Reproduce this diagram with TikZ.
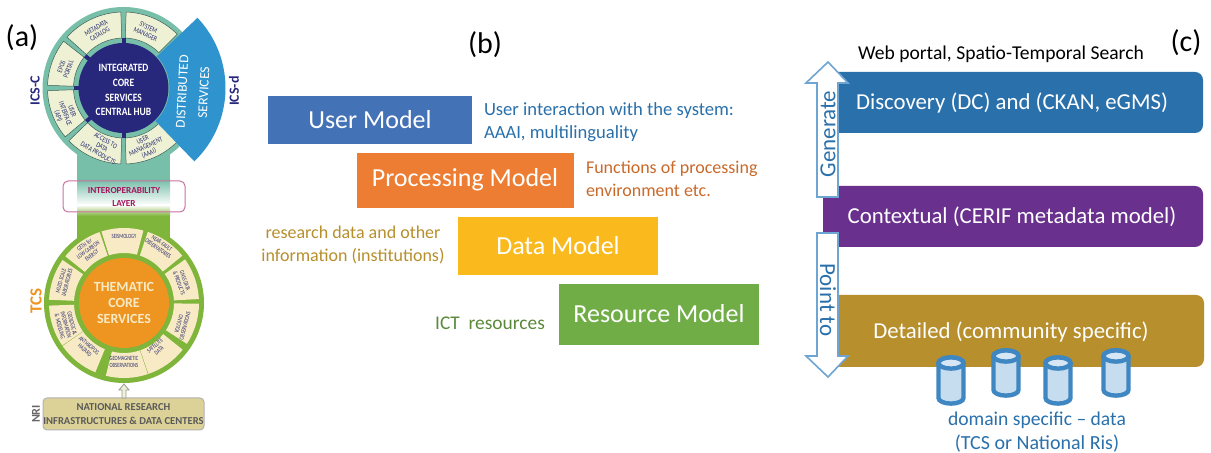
\documentclass[tikz,border=0pt]{standalone}
\usepackage{fontspec}
\setmainfont{Carlito}
\newfontfamily\condA[FakeStretch=0.78]{Carlito}
\newfontfamily\condB[FakeStretch=0.72]{Carlito}
\newfontfamily\condH[FakeStretch=0.85]{Carlito}
\definecolor{teal1}{HTML}{78BFA9}
\definecolor{navy1}{HTML}{27287C}
\definecolor{cream1}{HTML}{EEF1D3}
\definecolor{cream2}{HTML}{F8EAC4}
\definecolor{green1}{HTML}{7EB53A}
\definecolor{orange1}{HTML}{EE9420}
\definecolor{blue1}{HTML}{2F93CE}
\definecolor{segtxt}{HTML}{2C2F70}
\definecolor{magenta1}{HTML}{A5145F}
\definecolor{mdlblue}{HTML}{4472B6}
\definecolor{mdlorange}{HTML}{EC7D32}
\definecolor{mdlyellow}{HTML}{FABA1D}
\definecolor{mdlgreen}{HTML}{70AD47}
\definecolor{cblue}{HTML}{2A70AB}
\definecolor{cpurple}{HTML}{69308E}
\definecolor{cgold}{HTML}{B78F2C}
\definecolor{arrowline}{HTML}{6FA5D2}
\definecolor{cylline}{HTML}{3F87C2}
\definecolor{cylfill}{HTML}{C6DCEF}
\newcommand{\fs}[1]{\fontsize{#1}{#1}\selectfont}
\newcommand{\annseg}[7]{% cx cy a1 a2 r1 r2 style
  \begin{scope}[shift={(#1,#2)},y=.5pt]
    \path[#7] (#3:#6) arc[start angle=#3,end angle=#4,radius=#6*.5pt] -- (#4:#5) arc[start angle=#4,end angle=#3,radius=#5*.5pt] -- cycle;
  \end{scope}}
\tikzset{
  x=.5pt,y=-.5pt,
  every node/.style={inner sep=0pt,outer sep=0pt,align=center},
  paneltag/.style={font=\fs{15}},
  segA/.style={fill=cream1,draw=teal1!50!black,line width=.25pt},
  segB/.style={fill=cream2},
  segtextA/.style={font=\condA\fs{3.7},text=segtxt},
  segtextB/.style={font=\condB\fs{3.2},text=segtxt},
  hubtext/.style={font=\condH\bfseries\fs{5.6},align=center},
  sidelabel/.style={font=\bfseries\fs{7},rotate=90},
  modeltext/.style={font=\fs{13},text=white},
  desc/.style={font=\fs{9}},
  layerbox/.style={rounded corners=4pt},
  layertext/.style={font=\fs{11.4},text=white},
  blockarrow/.style={fill=white,draw=arrowline,line width=.8pt,line join=miter},
  arrowtext/.style={font=\fs{11.5},text=cblue},
  cylbody/.style={fill=cylfill,draw=cylline,line width=2.2pt},
}
\newcommand{\cyl}[3]{% cx top bottom (outer extents)
  \path[cylbody] (#1-12.5,#2+8) -- (#1-12.5,#3-8) arc[start angle=180,end angle=360,x radius=6.25pt,y radius=2.8pt] -- (#1+12.5,#2+8) arc[start angle=0,end angle=180,x radius=6.25pt,y radius=2.8pt] -- cycle;
  \path[cylbody,fill=cylfill!70!white] (#1,#2+8) ellipse[x radius=6.25pt,y radius=2.8pt];
}
\begin{document}
\begin{tikzpicture}
\useasboundingbox (0,0) rectangle (1211,453);
\fill[white] (0,0) rectangle (1211,453);

% ---------- panel (a)
\node[paneltag] (taga) at (22,38) {(a)};
\fill[teal1] (77,150) rectangle (170,180);
\shade[top color=teal1,bottom color=white] (77,180) rectangle (170,205);
\shade[top color=white,bottom color=green1] (77,205) rectangle (170,216);
\fill[green1] (77,216) rectangle (170,240);
\fill[teal1] (123.5,88) circle[radius=81];
\fill[navy1] (123.5,88) circle[radius=45];
\annseg{123.5}{88}{92}{138}{50}{76}{segA}
\annseg{123.5}{88}{142}{178}{50}{76}{segA}
\annseg{123.5}{88}{182}{220}{50}{76}{segA}
\annseg{123.5}{88}{224}{268}{50}{76}{segA}
\annseg{123.5}{88}{272}{315}{50}{76}{segA}
\annseg{123.5}{88}{45}{88}{50}{76}{segA}
\foreach \a in {90,140,180,222,270}{
  \begin{scope}[shift={(123.5,88)},y=.5pt]
    \draw[navy1,line width=2pt] (\a:44) -- (\a:50);
  \end{scope}}
\annseg{123.5}{88}{-46}{43.5}{46}{102}{fill=blue1}
\node[hubtext,text=white] (hub1) at (123.5,90) {INTEGRATED\\[1.8pt]CORE\\[1.8pt]SERVICES\\[1.8pt]CENTRAL HUB};
\node[segtextA,rotate=30] (s1) at (98,31) {METADATA\\CATALOG};
\node[segtextA,rotate=-25] (s2) at (147,31) {SYSTEM\\MANAGER};
\node[segtextA,rotate=70] (s3) at (65,68) {EPOS\\PORTAL};
\node[segtextA,rotate=-70] (s4) at (65,114) {USER\\INTERFACE\\(API)};
\node[segtextA,rotate=-30] (s5) at (102,147) {ACCESS TO\\DATA\\DATA PRODUCTS};
\node[segtextA,rotate=25] (s6) at (146,147) {USER\\MANAGEMENT\\(AAAI)};
\node[font=\fs{6.8},text=white,rotate=87,align=center] (dist) at (193,92) {DISTRIBUTED\\[4pt]SERVICES};
\node[sidelabel,text=navy1] (icsc) at (35,91) {ICS-C};
\node[sidelabel,text=navy1] (icsd) at (234,91) {ICS-d};

\draw[magenta1!60,rounded corners=2.5pt,line width=.5pt] (63,181) rectangle (185,212);
\node[font=\bfseries\fs{4.6},text=magenta1] (iop) at (124,197) {INTEROPERABILITY\\[1.5pt]LAYER};

\fill[green1] (124,303) circle[radius=80];
\fill[orange1] (124,303) circle[radius=45];
\foreach \a in {75,39,3,-33,-71,-104,-145,182,145,109}{
  \pgfmathsetmacro{\b}{\a+32.5}
  \annseg{124}{303}{\a}{\b}{50}{75}{segB}
}
\node[font=\bfseries\fs{7},text=cream2] (hub2) at (124,303) {THEMATIC\\[1pt]CORE\\[1pt]SERVICES};
\node[segtextB] (t1) at (124,236) {SEISMOLOGY};
\node[segtextB,rotate=-35] (t2) at (160,246) {NEAR-FAULT\\OBSERVATORIES};
\node[segtextB,rotate=-70] (t3) at (182,282) {GNSS DATA\\\& PRODUCTS};
\node[segtextB,rotate=75] (t4) at (182,325) {VOLCANO\\OBSERVATIONS};
\node[segtextB,rotate=40] (t5) at (157,348) {SATELLITE\\DATA};
\node[segtextB] (t6) at (124,362) {GEOMAGNETIC\\OBSERVATIONS};
\node[segtextB,rotate=-40] (t7) at (87,348) {ANTHROPOG\\HAZARD};
\node[segtextB,rotate=-75] (t8) at (66,325) {GEOLOGICAL\\INFORMATION\\\& MODELING};
\node[segtextB,rotate=75] (t9) at (64,282) {MULTI-SCALE\\LABORATORIES};
\node[segtextB,rotate=35] (t10) at (88,250) {GETH for\\LOW CARBON\\ENERGY};
\node[font=\bfseries\fs{8.5},text=orange1,rotate=90] (tcs) at (36,301) {TCS};

\node[draw=black!30,fill=cream2!75!olive!95,rounded corners=2pt,line width=.5pt,minimum width=80.5pt,minimum height=16pt,font=\bfseries\fs{5.3},text=black!65] (nri) at (123.5,414) {NATIONAL RESEARCH\\[1.5pt]INFRASTRUCTURES \& DATA CENTERS};
\node[font=\bfseries\fs{6},text=black!60,rotate=90] (nril) at (36,414) {NRI};
\path[fill=cream1,draw=black!40,line width=.4pt] (122,398) -- (122,390) -- (119,390) -- (124,384) -- (129,390) -- (126,390) -- (126,398) -- cycle;

% ---------- panel (b)
\node[paneltag] (tagb) at (485,45) {(b)};
\fill[mdlblue] (268,96) rectangle (472,144);
\node[modeltext] (m1) at (370,120) {User Model};
\fill[mdlorange] (357,153) rectangle (574,208);
\node[modeltext] (m2) at (465,180) {Processing Model};
\fill[mdlyellow] (458,217) rectangle (658,275);
\node[modeltext] (m3) at (558,246) {Data Model};
\fill[mdlgreen] (559,284) rectangle (759,345);
\node[modeltext] (m4) at (659,314) {Resource Model};
\node[desc,font=\fs{9.3},text=cblue,align=left,anchor=west] (d1) at (484,122) {User interaction with the system:\\[2.2pt]AAAI, multilinguality};
\node[desc,text=mdlorange!85!black,align=left,anchor=west] (d2) at (586,179) {Functions of processing\\[2.5pt]environment etc.};
\node[desc,text=cgold,align=center] (d3) at (353,245) {research data and other\\[2.5pt]information (institutions)};
\node[desc,font=\fs{9.7},text=mdlgreen!80!black] (d4) at (490,323) {ICT\ \ resources};

% ---------- panel (c)
\node[paneltag] (tagc) at (1186,43) {(c)};
\node[font=\fs{9.8}] (web) at (1001,54) {Web portal, Spatio-Temporal Search};
\fill[cblue,layerbox] (830,72) rectangle (1203,133);
\fill[cpurple,layerbox] (823,186) rectangle (1203,247);
\fill[cgold,layerbox] (830,295) rectangle (1204,367);
\node[layertext] (l1) at (1012,103) {Discovery (DC) and (CKAN, eGMS)};
\node[layertext] (l2) at (1012,217) {Contextual (CERIF metadata model)};
\node[layertext] (l3) at (1011,332) {Detailed (community specific)};
\path[blockarrow] (817,197) -- (817,83) -- (806,83) -- (828,62) -- (848,83) -- (838,83) -- (838,197) -- cycle;
\path[blockarrow] (817,233) -- (817,356) -- (806,356) -- (828,377) -- (848,356) -- (838,356) -- (838,233) -- cycle;
\node[arrowtext,rotate=90] (gen) at (828,134) {Generate};
\node[arrowtext,rotate=-90] (pt) at (828,300) {Point to};
\cyl{951}{355}{406}
\cyl{1006}{348}{398}
\cyl{1058}{355}{406}
\cyl{1116}{348}{398}
\node[font=\fs{9.8},text=cblue] (dom) at (1037,420) {domain specific -- data};
\node[font=\fs{10},text=cblue] (dom2) at (1037,444) {(TCS or National Ris)};
\end{tikzpicture}
\end{document}
